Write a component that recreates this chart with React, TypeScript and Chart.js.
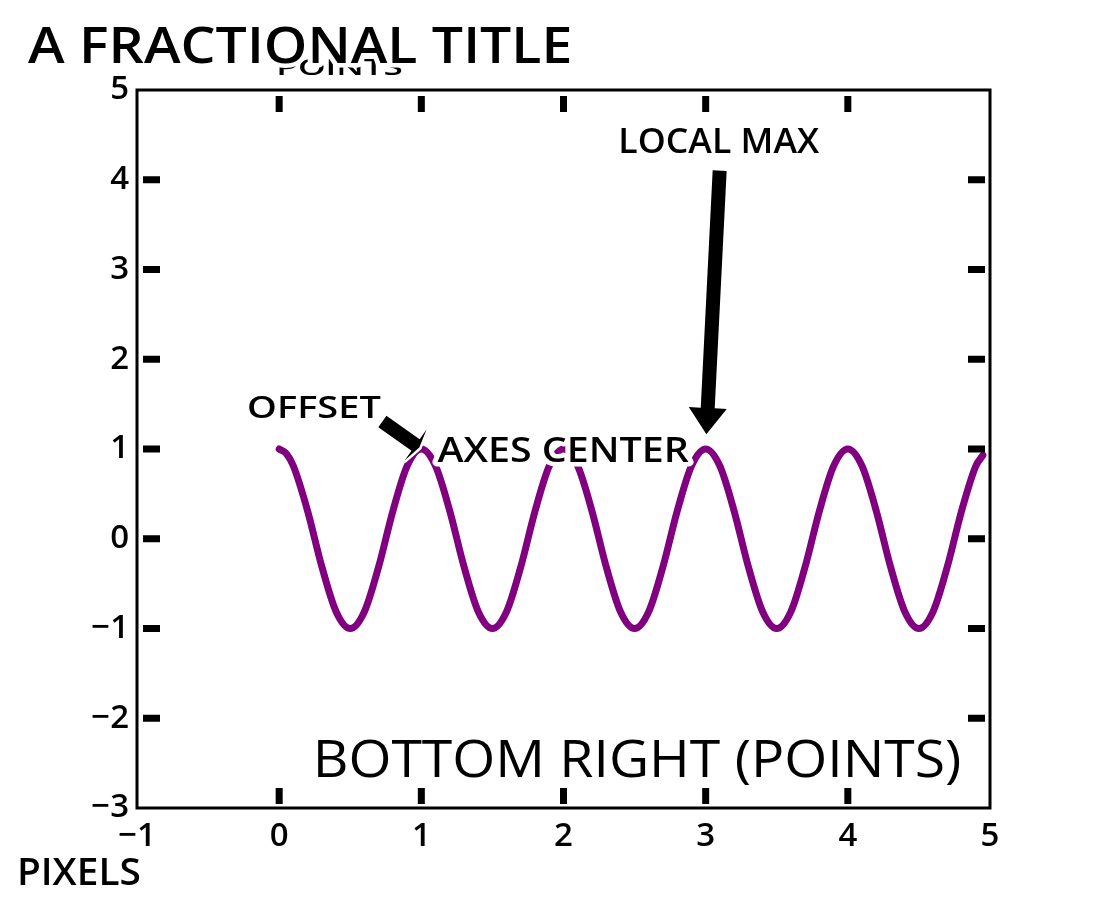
import React, { useEffect, useRef } from "react";
import { Chart, registerables } from "chart.js";

Chart.register(...registerables);

// ---- data ----
const X_VALUES = [
  0, 0.05, 0.1, 0.2, 0.3, 0.4, 0.5, 0.6, 0.7, 0.8, 0.9,
  1, 1.1, 1.2, 1.3, 1.4, 1.5, 1.6, 1.7, 1.8, 1.9,
  2, 2.1, 2.2, 2.3, 2.4, 2.5, 2.6, 2.7, 2.8, 2.9,
  3, 3.1, 3.2, 3.3, 3.4, 3.5, 3.6, 3.7, 3.8, 3.9,
  4, 4.1, 4.2, 4.3, 4.4, 4.5, 4.6, 4.7, 4.8, 4.9,
  4.95,
];
const Y_VALUES = [
  1, 0.95, 0.81, 0.31, -0.31, -0.81, -1, -0.81, -0.31, 0.31, 0.81,
  1, 0.81, 0.31, -0.31, -0.81, -1, -0.81, -0.31, 0.31, 0.81,
  1, 0.81, 0.31, -0.31, -0.81, -1, -0.81, -0.31, 0.31, 0.81,
  1, 0.81, 0.31, -0.31, -0.81, -1, -0.81, -0.31, 0.31, 0.81,
  1, 0.81, 0.31, -0.31, -0.81, -1, -0.81, -0.31, 0.31, 0.81,
  0.93,
];
const X_TICKS = [-1, 0, 1, 2, 3, 4, 5];
const Y_TICKS = [-3, -2, -1, 0, 1, 2, 3, 4, 5];

const TITLE = "A FRACTIONAL TITLE";
const POINTS_LABEL = "POINTS";
const PIXELS_LABEL = "PIXELS";
const LOCAL_MAX_LABEL = "LOCAL MAX";
const LOCAL_MAX_XY = [3, 1];
const OFFSET_LABEL = "OFFSET";
const OFFSET_XY = [1, 1];
const CENTER_LABEL = "AXES CENTER";
const BOTTOM_RIGHT_LABEL = "BOTTOM RIGHT (POINTS)";

const FONT = '"Open Sans", "DejaVu Sans", sans-serif';
const LINE_COLOR = "#800080";

function fitText(
  ctx: CanvasRenderingContext2D,
  text: string,
  left: number,
  capTop: number,
  capBottom: number,
  width: number,
  weight: number,
  stroke: number
) {
  const cap = capBottom - capTop;
  const size = cap / 0.714;
  ctx.save();
  ctx.font = `${weight} ${size}px ${FONT}`;
  ctx.textAlign = "left";
  ctx.textBaseline = "alphabetic";
  const m = ctx.measureText(text);
  const w = m.actualBoundingBoxLeft + m.actualBoundingBoxRight;
  const sx = width / w;
  ctx.translate(left + m.actualBoundingBoxLeft * sx, capBottom);
  ctx.scale(sx, 1);
  if (stroke > 0) {
    ctx.lineJoin = "round";
    ctx.lineWidth = stroke;
    ctx.strokeStyle = "#ffffff";
    ctx.strokeText(text, 0, 0);
  }
  ctx.fillStyle = "#000000";
  ctx.fillText(text, 0, 0);
  ctx.restore();
}

function yaArrow(
  ctx: CanvasRenderingContext2D,
  sx: number,
  sy: number,
  ex: number,
  ey: number,
  shrink: number,
  width: number,
  headWidth: number,
  frac: number
) {
  const dx = ex - sx;
  const dy = ey - sy;
  const L = Math.hypot(dx, dy);
  const ux = dx / L;
  const uy = dy / L;
  const x1 = sx + ux * L * shrink;
  const y1 = sy + uy * L * shrink;
  const x2 = ex - ux * L * shrink;
  const y2 = ey - uy * L * shrink;
  const len = Math.hypot(x2 - x1, y2 - y1);
  const hl = len * frac;
  const bx = x2 - ux * hl;
  const by = y2 - uy * hl;
  const nx = -uy;
  const ny = ux;
  ctx.save();
  ctx.beginPath();
  ctx.moveTo(x1 + (nx * width) / 2, y1 + (ny * width) / 2);
  ctx.lineTo(bx + (nx * width) / 2, by + (ny * width) / 2);
  ctx.lineTo(bx + (nx * headWidth) / 2, by + (ny * headWidth) / 2);
  ctx.lineTo(x2, y2);
  ctx.lineTo(bx - (nx * headWidth) / 2, by - (ny * headWidth) / 2);
  ctx.lineTo(bx - (nx * width) / 2, by - (ny * width) / 2);
  ctx.lineTo(x1 - (nx * width) / 2, y1 - (ny * width) / 2);
  ctx.closePath();
  ctx.lineJoin = "round";
  ctx.lineWidth = 5;
  ctx.strokeStyle = "#ffffff";
  ctx.stroke();
  ctx.fillStyle = "#000000";
  ctx.fill();
  ctx.restore();
}

const decorPlugin = {
  id: "xkcdDecor",
  beforeDatasetsDraw(chart: any) {
    const ctx: CanvasRenderingContext2D = chart.ctx;
    // faint "points" text sitting under the title
    fitText(ctx, POINTS_LABEL, 278, 60, 75, 124, 600, 0);
  },
  afterDraw(chart: any) {
    const ctx: CanvasRenderingContext2D = chart.ctx;
    const a = chart.chartArea;
    const xs = chart.scales.x;
    const ys = chart.scales.y;

    // spines
    ctx.save();
    ctx.strokeStyle = "#000";
    ctx.lineWidth = 3;
    ctx.lineJoin = "miter";
    ctx.strokeRect(a.left, a.top, a.right - a.left, a.bottom - a.top);
    ctx.restore();

    // inward tick marks
    ctx.save();
    ctx.fillStyle = "#000";
    X_TICKS.forEach((v) => {
      if (v === xs.min || v === xs.max) return;
      const px = xs.getPixelForValue(v);
      ctx.fillRect(px - 3.5, a.top + 6, 7, 16);
      ctx.fillRect(px - 3.5, a.bottom - 20, 7, 16);
    });
    Y_TICKS.forEach((v) => {
      if (v === ys.min || v === ys.max) return;
      const py = ys.getPixelForValue(v);
      ctx.fillRect(a.left + 6, py - 3.5, 17, 7);
      ctx.fillRect(a.right - 22, py - 3.5, 17, 7);
    });
    ctx.restore();

    const w = a.right - a.left;
    const h = a.bottom - a.top;

    // local max annotation
    const lmRight = a.left + 0.8 * w;
    const lmLeft = lmRight - 198;
    const lmTop = 128;
    const lmBottom = 153;
    fitText(ctx, LOCAL_MAX_LABEL, lmLeft, lmTop, lmBottom, 198, 600, 6);
    const lmx = xs.getPixelForValue(LOCAL_MAX_XY[0]);
    const lmy = ys.getPixelForValue(LOCAL_MAX_XY[1]);
    yaArrow(ctx, (lmLeft + lmRight) / 2, lmBottom + 3, lmx, lmy, 0.05, 14, 38, 0.1);

    // offset annotation
    const ofx = xs.getPixelForValue(OFFSET_XY[0]);
    const ofy = ys.getPixelForValue(OFFSET_XY[1]);
    const ofRight = ofx - 41;
    const ofBottom = ofy - 29;
    fitText(ctx, OFFSET_LABEL, ofRight - 132, ofBottom - 24, ofBottom - 2, 132, 600, 6);
    yaArrow(ctx, ofRight, ofBottom, ofx, ofy, 0.05, 14, 38, 0.1);

    // axes center
    const cx = a.left + 0.5 * w;
    const cy = a.top + 0.5 * h;
    fitText(ctx, CENTER_LABEL, cx - 126, cy - 12, cy + 13, 252, 600, 9);

    // bottom right (points)
    fitText(ctx, BOTTOM_RIGHT_LABEL, 318, 740, 777, 642, 400, 6);

    // title
    fitText(ctx, TITLE, 28, 27, 63, 542, 600, 9);

    // pixels
    fitText(ctx, PIXELS_LABEL, 20, 858, 885, 120, 600, 6);
  },
};

export default function App() {
  const ref = useRef<HTMLCanvasElement | null>(null);

  useEffect(() => {
    if (!ref.current) return;
    const data = X_VALUES.map((x, i) => ({ x, y: Y_VALUES[i] }));
    const tickFont = { family: FONT, size: 33, weight: 600 as any };
    const chart = new Chart(ref.current, {
      type: "line",
      data: {
        datasets: [
          {
            data,
            borderColor: LINE_COLOR,
            borderWidth: 7,
            borderCapStyle: "round",
            borderJoinStyle: "round",
            pointRadius: 0,
            fill: false,
            cubicInterpolationMode: "monotone",
          },
        ],
      },
      options: {
        animation: false,
        responsive: false,
        maintainAspectRatio: false,
        layout: { padding: { left: 0, top: 90, right: 110, bottom: 0 } },
        plugins: {
          legend: { display: false },
          tooltip: { enabled: false },
          title: { display: false },
        },
        scales: {
          x: {
            type: "linear",
            min: -1,
            max: 5,
            grid: { display: false, drawTicks: false },
            border: { display: false },
            afterBuildTicks: (s: any) => {
              s.ticks = X_TICKS.map((v) => ({ value: v }));
            },
            afterFit: (s: any) => {
              s.height = 92;
              s.paddingLeft = 0;
              s.paddingRight = 0;
            },
            ticks: {
              color: "#000",
              font: tickFont,
              padding: 9,
              maxRotation: 0,
              autoSkip: false,
              textStrokeColor: "#ffffff",
              textStrokeWidth: 6,
              callback: (v: any) => String(v).replace("-", "\u2212"),
            },
          },
          y: {
            type: "linear",
            min: -3,
            max: 5,
            grid: { display: false, drawTicks: false },
            border: { display: false },
            afterBuildTicks: (s: any) => {
              s.ticks = Y_TICKS.map((v) => ({ value: v }));
            },
            afterFit: (s: any) => {
              s.width = 137;
              s.paddingTop = 0;
              s.paddingBottom = 0;
            },
            ticks: {
              color: "#000",
              font: tickFont,
              padding: 8,
              autoSkip: false,
              textStrokeColor: "#ffffff",
              textStrokeWidth: 6,
              callback: (v: any) => String(v).replace("-", "\u2212"),
            },
          },
        },
      },
      plugins: [decorPlugin],
    } as any);
    return () => chart.destroy();
  }, []);

  return (
    <div style={{ position: "absolute", left: 0, top: 0, width: 1100, height: 900, background: "#fff" }}>
      <canvas ref={ref} width={1100} height={900} style={{ width: 1100, height: 900, display: "block" }} />
    </div>
  );
}
